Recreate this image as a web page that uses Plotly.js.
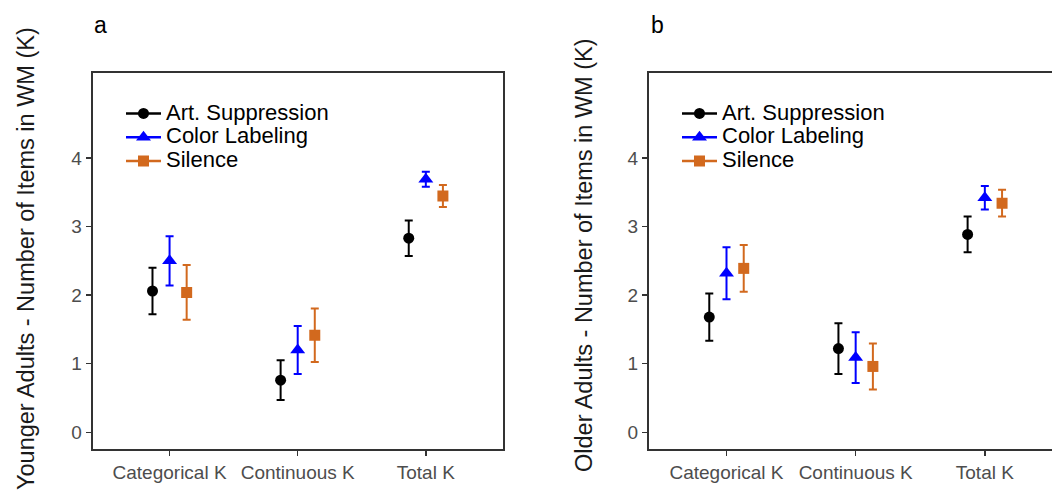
<!DOCTYPE html>
<html>
<head>
<meta charset="utf-8">
<script src="https://cdn.plot.ly/plotly-3.0.1.min.js"></script>
<style>
  html, body { margin: 0; padding: 0; background: #ffffff; }
  #chart { width: 1052px; height: 495px; }
</style>
</head>
<body>
<div id="chart"></div>
<script>
// K estimates (mean ± error) per condition, for each measure
const categories = ['Categorical K', 'Continuous K', 'Total K'];
const conditions = ['Art. Suppression', 'Color Labeling', 'Silence'];
const yTicks = [0, 1, 2, 3, 4];

// Panel a: younger adults
const youngArt = [2.06, 0.76, 2.83];
const youngArtErr = [0.34, 0.29, 0.26];
const youngColor = [2.50, 1.20, 3.69];
const youngColorErr = [0.36, 0.35, 0.11];
const youngSilence = [2.04, 1.415, 3.446];
const youngSilenceErr = [0.40, 0.39, 0.16];

// Panel b: older adults
const oldArt = [1.68, 1.22, 2.885];
const oldArtErr = [0.345, 0.37, 0.26];
const oldColor = [2.32, 1.09, 3.42];
const oldColorErr = [0.38, 0.37, 0.17];
const oldSilence = [2.39, 0.96, 3.34];
const oldSilenceErr = [0.34, 0.335, 0.195];

const W = 1052, H = 495;
const colors = ['#000000', '#0000ff', '#d2691e'];
const symbols = ['circle', 'triangle-up', 'square'];
const sizes = [11, 13, 11];
const dodge = 0.4;

function px(x) { return x / W; }
function py(y) { return 1 - y / H; }

function panelTraces(series, errs, xa, ya, legendId) {
  const out = [];
  series.forEach((vals, g) => {
    const off = (g - 1) * dodge / 3;
    out.push({
      type: 'scatter', mode: 'markers',
      x: vals.map((v, i) => i + off), y: vals,
      xaxis: xa, yaxis: ya,
      marker: { color: colors[g], symbol: symbols[g], size: sizes[g] },
      error_y: { type: 'data', array: errs[g], visible: true,
                 color: colors[g], thickness: 2, width: 4 },
      showlegend: false, hoverinfo: 'skip'
    });
  });
  // legend keys: line through the marker
  series.forEach((vals, g) => {
    out.push({
      type: 'scatter', mode: 'lines+markers',
      x: [null], y: [null], xaxis: xa, yaxis: ya,
      name: '<span style="font-size:22px">' + conditions[g] + '</span>',
      line: { color: colors[g], width: 2.5 },
      marker: { color: colors[g], symbol: symbols[g], size: sizes[g] },
      legend: legendId, showlegend: true
    });
  });
  return out;
}

const data = [].concat(
  panelTraces([youngArt, youngColor, youngSilence],
              [youngArtErr, youngColorErr, youngSilenceErr], 'x', 'y', 'legend'),
  panelTraces([oldArt, oldColor, oldSilence],
              [oldArtErr, oldColorErr, oldSilenceErr], 'x2', 'y2', 'legend2')
);

const axisLine = { showline: true, linecolor: '#333333', linewidth: 2,
  ticks: 'outside', ticklen: 5, tickwidth: 1.5, tickcolor: '#333333',
  showgrid: false, zeroline: false,
  tickfont: { family: 'Liberation Sans, Arial, sans-serif', size: 19, color: '#4d4d4d' } };

const yDomain = [py(449), py(73.3)];
const yRange = [-0.244, 5.235];

const legendBase = {
  xanchor: 'left', yanchor: 'top', bgcolor: 'rgba(0,0,0,0)',
  font: { family: 'Liberation Sans, Arial, sans-serif', size: 16, color: '#000000' },
  itemwidth: 35, traceorder: 'normal'
};

const layout = {
  width: W, height: H,
  margin: { l: 0, r: 0, t: 0, b: 0 },
  paper_bgcolor: '#ffffff', plot_bgcolor: '#ffffff',
  font: { family: 'Liberation Sans, Arial, sans-serif' },
  xaxis: Object.assign({}, axisLine, { domain: [px(92.7), px(502.7)], range: [-0.6, 2.6],
    tickvals: [0, 1, 2], ticktext: categories, mirror: true, anchor: 'y' }),
  yaxis: Object.assign({}, axisLine, { domain: yDomain, range: yRange,
    tickvals: yTicks, mirror: true, anchor: 'x' }),
  xaxis2: Object.assign({}, axisLine, { domain: [px(649), 1], range: [-0.6, 2.52],
    tickvals: [0, 1, 2], ticktext: categories, mirror: true, anchor: 'y2' }),
  yaxis2: Object.assign({}, axisLine, { domain: yDomain, range: yRange,
    tickvals: yTicks, mirror: false, anchor: 'x2' }),
  legend: Object.assign({}, legendBase, { x: px(121), y: py(96.5) }),
  legend2: Object.assign({}, legendBase, { x: px(677), y: py(96.5) }),
  annotations: [
    { text: 'a', xref: 'paper', yref: 'paper', x: px(92), y: py(25), xanchor: 'left', yanchor: 'middle',
      showarrow: false, font: { size: 23, color: '#000000' } },
    { text: 'b', xref: 'paper', yref: 'paper', x: px(649), y: py(25), xanchor: 'left', yanchor: 'middle',
      showarrow: false, font: { size: 23, color: '#000000' } },
    { text: 'Younger Adults - Number of Items in WM (K)', xref: 'paper', yref: 'paper',
      x: px(26), y: py(259), xanchor: 'center', yanchor: 'middle', textangle: -90,
      showarrow: false, font: { size: 23.5, color: '#1a1a1a' } },
    { text: 'Older Adults - Number of Items in WM (K)', xref: 'paper', yref: 'paper',
      x: px(584), y: py(255), xanchor: 'center', yanchor: 'middle', textangle: -90,
      showarrow: false, font: { size: 23.5, color: '#1a1a1a' } }
  ]
};

Plotly.newPlot('chart', data, layout, { displayModeBar: false, staticPlot: true });
</script>
</body>
</html>
